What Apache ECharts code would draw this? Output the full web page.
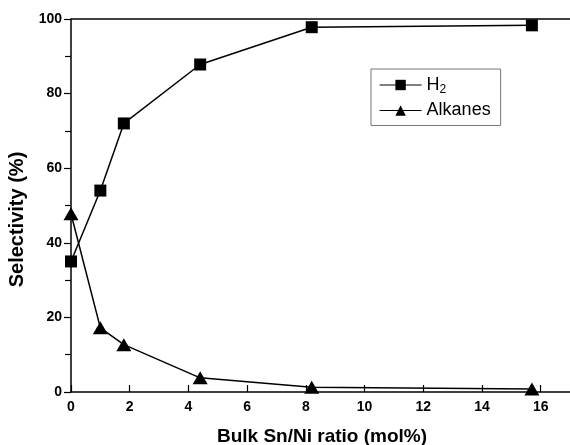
<!DOCTYPE html>
<html><head><meta charset="utf-8">
<script src="https://cdn.jsdelivr.net/npm/echarts@6/dist/echarts.min.js"></script>
<style>html,body{margin:0;padding:0;background:#fff}#c{width:570px;height:445px}</style>
</head><body><div id="c"></div>
<script>
const xValues = [0, 1.0, 1.8, 4.4, 8.2, 15.7];
const h2Values = [35, 54, 72, 87.8, 97.8, 98.3];
const alkanesValues = [47.8, 17.2, 12.7, 3.8, 1.3, 0.8];
const seriesNames = ['H2', 'Alkanes'];
const xTicks = [0, 2, 4, 6, 8, 10, 12, 14, 16];
const yTicks = [0, 20, 40, 60, 80, 100];

const font = 'Liberation Sans, Arial, sans-serif';
const chart = echarts.init(document.getElementById('c'));
const pairs = (ys) => xValues.map((x, i) => [x, ys[i]]);
chart.setOption({
  animation: false,
  grid: {left: 71, right: -3, top: 19, bottom: 53, outerBoundsMode: 'none', containLabel: false},
  legend: {
    left: 371, top: 69, orient: 'vertical', itemGap: 6, itemWidth: 42, itemHeight: 13,
    padding: [7, 10, 6, 8], borderColor: '#777', borderWidth: 1,
    lineStyle: {width: 1.2},
    data: [seriesNames[0], seriesNames[1]],
    formatter: n => n === 'H2' ? '{a|H}{s|2}' : '{a|' + n + '}',
    textStyle: {rich: {a: {fontFamily: font, fontSize: 18, color: '#000'}, s: {fontFamily: font, fontSize: 12, color: '#000', verticalAlign: 'bottom', padding: [9, 0, 0, 0]}}}
  },
  xAxis: {
    type: 'value', min: 0, max: 17.1, interval: 2,
    name: 'Bulk Sn/Ni ratio (mol%)', nameLocation: 'middle', nameGap: 35,
    nameTextStyle: {fontFamily: font, fontSize: 19, fontWeight: 'bold', color: '#000'},
    axisLine: {onZero: false, lineStyle: {color: '#000', width: 1.5}},
    axisTick: {inside: true, length: 7, lineStyle: {color: '#000', width: 1.2}},
    axisLabel: {fontFamily: font, fontSize: 14, fontWeight: 'bold', color: '#000', margin: 8,
      formatter: v => xTicks.includes(v) ? String(v) : ''},
    splitLine: {show: false}
  },
  yAxis: [{
    type: 'value', min: 0, max: 100, interval: 20,
    name: 'Selectivity (%)', nameLocation: 'middle', nameGap: 39,
    nameTextStyle: {fontFamily: font, fontSize: 20, fontWeight: 'bold', color: '#000', padding: [0, 28, 0, 0]},
    axisLine: {show: true, lineStyle: {color: '#000', width: 1.5}},
    axisTick: {length: 7, lineStyle: {color: '#000', width: 1.2}},
    minorTick: {show: true, splitNumber: 2, length: 6, lineStyle: {color: '#000', width: 1.2}},
    axisLabel: {fontFamily: font, fontSize: 14, fontWeight: 'bold', color: '#000', margin: 9,
      formatter: v => yTicks.includes(v) ? String(v) : ''},
    splitLine: {show: false}
  }],
  graphic: [{type: 'line', shape: {x1: 71, y1: 19, x2: 570, y2: 19}, style: {stroke: '#000', lineWidth: 1.5}}],
  series: [{
    name: seriesNames[0], type: 'line', data: pairs(h2Values),
    symbol: 'rect', symbolSize: 12, clip: false,
    lineStyle: {color: '#000', width: 1.5}, itemStyle: {color: '#000'}
  }, {
    name: seriesNames[1], type: 'line', data: pairs(alkanesValues),
    symbol: 'triangle', symbolSize: [15, 13], clip: false,
    lineStyle: {color: '#000', width: 1.5}, itemStyle: {color: '#000'}
  }]
});
</script></body></html>
